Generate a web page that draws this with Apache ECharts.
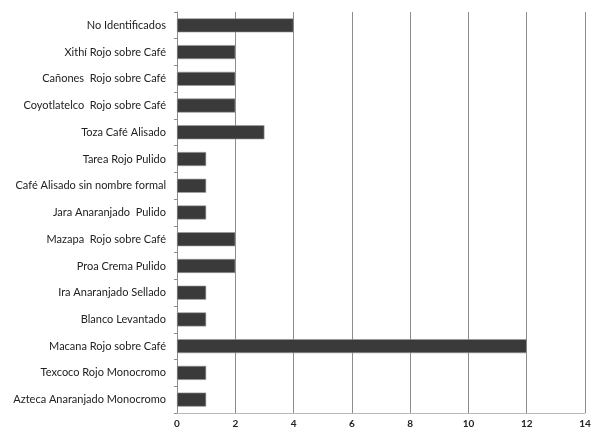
<!DOCTYPE html>
<html><head><meta charset="utf-8">
<script src="https://cdn.jsdelivr.net/npm/echarts@6/dist/echarts.min.js"></script>
<style>html,body{margin:0;padding:0;background:#fff}#c{width:594px;height:436px}</style>
</head><body><div id="c"></div>
<script>
const categories = [
  "No Identificados",
  "Xithí Rojo sobre Café",
  "Cañones  Rojo sobre Café",
  "Coyotlatelco  Rojo sobre Café",
  "Toza Café Alisado",
  "Tarea Rojo Pulido",
  "Café Alisado sin nombre formal",
  "Jara Anaranjado  Pulido",
  "Mazapa  Rojo sobre Café",
  "Proa Crema Pulido",
  "Ira Anaranjado Sellado",
  "Blanco Levantado",
  "Macana Rojo sobre Café",
  "Texcoco Rojo Monocromo",
  "Azteca Anaranjado Monocromo"
];
const values = [4, 2, 2, 2, 3, 1, 1, 1, 2, 2, 1, 1, 12, 1, 1];
const xTicks = [0, 2, 4, 6, 8, 10, 12, 14];

const chart = echarts.init(document.getElementById('c'), null, {renderer: 'canvas'});
chart.setOption({
  animation: false,
  grid: {left: 177, right: 9, top: 12, bottom: 23, containLabel: false},
  xAxis: {
    type: 'value', min: xTicks[0], max: xTicks[xTicks.length - 1], interval: 2,
    axisLine: {show: true, lineStyle: {color: '#b8b8b8', width: 1}},
    axisTick: {show: false},
    splitLine: {show: true, lineStyle: {color: '#8c8c8c', width: 1}},
    axisLabel: {color: '#222', fontSize: 10, fontFamily: 'Lato', fontWeight: 'bold', margin: 6}
  },
  yAxis: {
    type: 'category', data: categories, inverse: true,
    axisLine: {show: true, lineStyle: {color: '#8c8c8c', width: 1}},
    axisTick: {show: true, length: 3, lineStyle: {color: '#8c8c8c'}},
    axisLabel: {color: '#222', fontSize: 11, fontFamily: 'Lato', margin: 11}
  },
  series: [{
    type: 'bar', data: values, barWidth: 14,
    itemStyle: {color: '#3a3a3a', borderColor: '#9a9a9a', borderWidth: 0.6}
  }]
});
</script></body></html>
